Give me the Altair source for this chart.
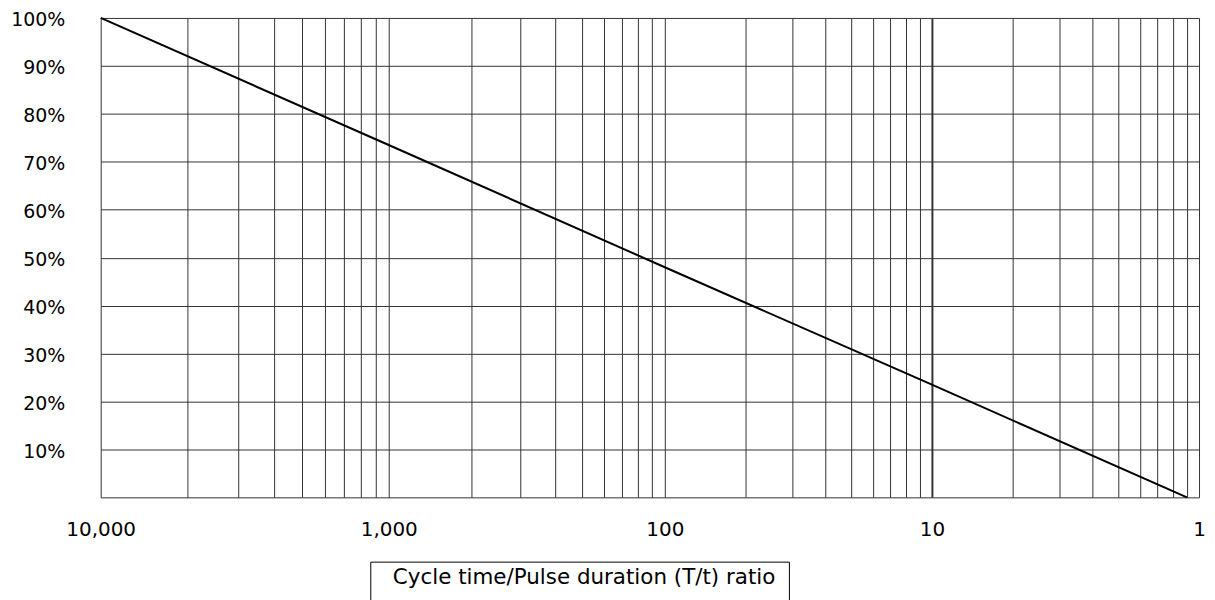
import altair as alt
import pandas as pd

# T/t ratio readings along the line and the percentage read at each
ratio_points = [10000, 1000, 100, 10, 1.11]
pct_points = [100, 73.5, 48.0, 23.5, 0]

# duty (t/T) grid values of the log axis
grid_duty = [0.0001, 0.0002, 0.0003, 0.0004, 0.0005, 0.0006, 0.0007, 0.0008, 0.0009,
             0.001, 0.002, 0.003, 0.004, 0.005, 0.006, 0.007, 0.008, 0.009,
             0.01, 0.02, 0.03, 0.04, 0.05, 0.06, 0.07, 0.08, 0.09,
             0.1, 0.2, 0.3, 0.4, 0.5, 0.6, 0.7, 0.8, 0.9, 1]
decades = [0.0001, 0.001, 0.01, 0.1, 1]
y_ticks = [0, 10, 20, 30, 40, 50, 60, 70, 80, 90, 100]
x_title = ["Cycle time/Pulse duration (T/t) ratio"]

df_line = pd.DataFrame({"duty": [1 / r for r in ratio_points], "pct": pct_points})
df_title = pd.DataFrame({"label": x_title})

FONT = "DejaVu Sans"

x_axis = alt.Axis(
    values=grid_duty,
    labelExpr="indexof([0.0001, 0.001, 0.01, 0.1, 1], datum.value) >= 0 ? format(round(1 / datum.value), ',') : ''",
    labelOverlap=False,
    labelFlush=False,
    labelPadding=22,
    labelFontSize=20,
    ticks=False,
    tickSize=0,
    domain=False,
    grid=True,
    gridColor="#333333",
    gridWidth={"condition": {"test": "abs(datum.value - 0.1) < 1e-9", "value": 2}, "value": 1},
    title=None,
)
y_axis = alt.Axis(
    values=y_ticks,
    labelExpr="datum.value == 0 ? '' : datum.value + '%'",
    labelPadding=36,
    labelFontSize=19,
    labelOffset=2,
    ticks=False,
    tickSize=0,
    domain=False,
    grid=True,
    gridColor="#333333",
    gridWidth=1,
    title=None,
)

line = alt.Chart(df_line).mark_line(color="black", strokeWidth=2).encode(
    x=alt.X("duty:Q",
            scale=alt.Scale(type="log", domain=decades, range=[0, 289, 566, 834, 1102], nice=False),
            axis=x_axis),
    y=alt.Y("pct:Q", scale=alt.Scale(domain=[0, 100], nice=False), axis=y_axis),
)

box = alt.Chart(df_title).mark_rect(fill="white", stroke="black", strokeWidth=1).encode(
    x=alt.value(271), x2=alt.value(691), y=alt.value(546), y2=alt.value(590)
)
title_text = alt.Chart(df_title).mark_text(
    font=FONT, fontSize=21.5, align="center", baseline="middle", color="black"
).encode(x=alt.value(485), y=alt.value(562), text="label:N")

chart = alt.layer(line, box, title_text).properties(
    width=1102,
    height=481,
    autosize=alt.AutoSizeParams(type="none"),
    padding={"left": 93, "top": 9, "right": 8, "bottom": 102},
).configure_view(stroke=None).configure_axis(
    labelFont=FONT, labelColor="black"
)

chart.save("out.html", embed_options={"renderer": "svg", "actions": False})
